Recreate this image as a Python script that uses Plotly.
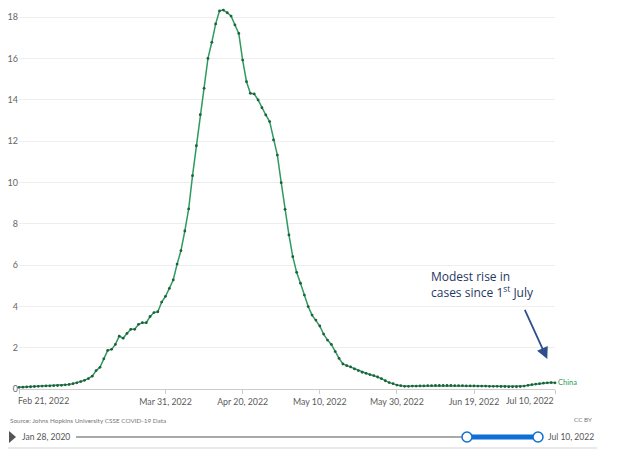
import pandas as pd
import plotly.graph_objects as go

# ---------------- data ----------------
start_date = "2022-02-21"
values = [
    0.08, 0.09, 0.10, 0.11, 0.12, 0.13, 0.14, 0.15, 0.15, 0.16,
    0.17, 0.18, 0.20, 0.22, 0.26, 0.30, 0.36, 0.42, 0.50, 0.62,
    0.89, 1.05, 1.46, 1.87, 1.92, 2.16, 2.56, 2.46, 2.69, 2.89,
    2.89, 3.13, 3.21, 3.21, 3.51, 3.70, 3.74, 4.21, 4.49, 4.87,
    5.28, 6.05, 6.70, 7.65, 8.72, 10.33, 11.78, 13.28, 14.56, 16.01,
    16.79, 17.68, 18.31, 18.35, 18.22, 18.06, 17.63, 17.22, 15.93, 14.88,
    14.32, 14.29, 14.00, 13.62, 13.27, 12.95, 12.06, 11.33, 9.99, 8.70,
    7.46, 6.41, 5.65, 5.12, 4.55, 3.99, 3.58, 3.34, 3.05, 2.66,
    2.37, 2.16, 1.81, 1.48, 1.21, 1.13, 1.07, 0.97, 0.89, 0.81,
    0.76, 0.70, 0.65, 0.58, 0.50, 0.40, 0.31, 0.26, 0.19, 0.16,
    0.13, 0.13, 0.14, 0.14, 0.15, 0.15, 0.16, 0.16, 0.17, 0.17,
    0.17, 0.17, 0.17, 0.16, 0.16, 0.16, 0.15, 0.15, 0.15, 0.14,
    0.14, 0.14, 0.13, 0.13, 0.13, 0.12, 0.12, 0.11, 0.11, 0.11,
    0.12, 0.14, 0.18, 0.21, 0.24, 0.26, 0.28, 0.30, 0.31, 0.30,
]
dates = pd.date_range(start_date, periods=len(values), freq="D")
series_name = "China"

y_ticks = [0, 2, 4, 6, 8, 10, 12, 14, 16, 18]
x_tick_dates = ["2022-02-21", "2022-03-31", "2022-04-20", "2022-05-10",
                "2022-05-30", "2022-06-19", "2022-07-10"]
x_tick_labels = ["Feb 21, 2022", "Mar 31, 2022", "Apr 20, 2022", "May 10, 2022",
                 "May 30, 2022", "Jun 19, 2022", "Jul 10, 2022"]

source_text = "Source: Johns Hopkins University CSSE COVID-19 Data"
license_text = "CC BY"
slider_start_label = "Jan 28, 2020"
slider_end_label = "Jul 10, 2022"
note_lines = ["Modest rise in", "cases since 1<sup>st</sup> July"]
arrow_tail = ("2022-07-02", 3.9)
arrow_head = ("2022-07-08", 1.45)

# ---------------- layout geometry (page pixels) ----------------
OFF = 8                       # default page body margin
W, H = 622 - OFF, 468 - OFF
PL, PR, PT, PB = 19, 555, 8, 389   # plot area in page pixels
L, R, T, B = PL - OFF, 622 - PR, PT - OFF, 468 - PB
PW, PH = PR - PL, PB - PT


def px(x):
    return (x - PL) / PW


def py(y):
    return (PB - y) / PH


LINE_COLOR = "#2e9a60"
DOT_COLOR = "#1f5f3d"
FONT = "Lato"
TICK_FONT = dict(family=FONT, size=8.8, color="#5b5b5b")

fig = go.Figure()
fig.add_trace(go.Scatter(
    x=dates, y=values, mode="lines+markers", name=series_name,
    line=dict(color=LINE_COLOR, width=1.5),
    marker=dict(color=DOT_COLOR, size=2.8),
    cliponaxis=False, hoverinfo="x+y",
))

annotations = []
# first / last x tick labels aligned like the original
annotations.append(dict(x=x_tick_dates[0], y=0, xref="x", yref="y", text=x_tick_labels[0],
                        showarrow=False, xanchor="left", yanchor="top", xshift=-3, yshift=-4,
                        font=TICK_FONT))
annotations.append(dict(x=x_tick_dates[-1], y=0, xref="x", yref="y", text=x_tick_labels[-1],
                        showarrow=False, xanchor="right", yanchor="top", xshift=1, yshift=-4,
                        font=TICK_FONT))
# series label
annotations.append(dict(x=dates[-1], y=values[-1], xref="x", yref="y", text=series_name,
                        showarrow=False, xanchor="left", yanchor="middle", xshift=1,
                        font=dict(family=FONT, size=7.5, color=LINE_COLOR)))
# note text
annotations.append(dict(x=px(429), y=py(284), xref="paper", yref="paper",
                        text="<br>".join(note_lines), showarrow=False, align="left",
                        xanchor="left", yanchor="middle",
                        font=dict(family="Open Sans", size=12, color="#1f3864")))
# arrow
annotations.append(dict(x=arrow_head[0], y=arrow_head[1], ax=arrow_tail[0], ay=arrow_tail[1],
                        xref="x", yref="y", axref="x", ayref="y", text="", showarrow=True,
                        arrowhead=2, arrowsize=1.3, arrowwidth=1.8, arrowcolor="#2f4f8a"))
# footer texts
annotations.append(dict(x=px(8), y=py(420), xref="paper", yref="paper", text=source_text,
                        showarrow=False, xanchor="left", yanchor="middle",
                        font=dict(family=FONT, size=6.4, color="#777")))
annotations.append(dict(x=px(594), y=py(419), xref="paper", yref="paper", text=license_text,
                        showarrow=False, xanchor="right", yanchor="middle",
                        font=dict(family=FONT, size=6.4, color="#777")))
annotations.append(dict(x=px(20), y=py(437), xref="paper", yref="paper", text=slider_start_label,
                        showarrow=False, xanchor="left", yanchor="middle",
                        font=dict(family=FONT, size=8.5, color="#555")))
annotations.append(dict(x=px(546), y=py(437), xref="paper", yref="paper", text=slider_end_label,
                        showarrow=False, xanchor="left", yanchor="middle",
                        font=dict(family=FONT, size=8.5, color="#555")))

shapes = []
# play triangle
shapes.append(dict(type="path", xref="paper", yref="paper",
                   path=f"M {px(9)} {py(431)} L {px(16)} {py(437)} L {px(9)} {py(443)} Z",
                   fillcolor="#555", line=dict(width=0)))
# slider track
shapes.append(dict(type="line", xref="paper", yref="paper", x0=px(76), x1=px(538), y0=py(437), y1=py(437),
                   line=dict(color="#a9a9a9", width=2)))
shapes.append(dict(type="line", xref="paper", yref="paper", x0=px(467), x1=px(538), y0=py(437), y1=py(437),
                   line=dict(color="#0f6fd4", width=5)))
for cx in (467, 538):
    shapes.append(dict(type="circle", xref="paper", yref="paper",
                       x0=px(cx - 5), x1=px(cx + 5), y0=py(442), y1=py(432),
                       fillcolor="white", line=dict(color="#0f6fd4", width=1.5)))
# panel bottom border
shapes.append(dict(type="line", xref="paper", yref="paper", x0=px(8), x1=px(597), y0=py(448), y1=py(448),
                   line=dict(color="#e2e2e2", width=1.5)))

fig.update_layout(
    width=W, height=H,
    margin=dict(l=L, r=R, t=T, b=B, pad=0),
    paper_bgcolor="white", plot_bgcolor="white",
    showlegend=False,
    font=dict(family=FONT),
    annotations=annotations,
    shapes=shapes,
    xaxis=dict(
        type="date", range=[x_tick_dates[0], x_tick_dates[-1]],
        tickvals=x_tick_dates,
        ticktext=[""] + x_tick_labels[1:-1] + [""],
        ticks="outside", ticklen=4, tickcolor="#cccccc",
        showline=True, linecolor="#cccccc", linewidth=1,
        showgrid=False, zeroline=False, automargin=False,
        tickfont=TICK_FONT,
        fixedrange=True,
    ),
    yaxis=dict(
        range=[0, 18.45], tickvals=y_ticks,
        showgrid=True, gridcolor="#eeeeee", gridwidth=1,
        zeroline=False, showline=False, ticks="", automargin=False,
        tickfont=dict(family=FONT, size=9, color="#666"),
        fixedrange=True,
    ),
)

fig.write_html("out.html")
